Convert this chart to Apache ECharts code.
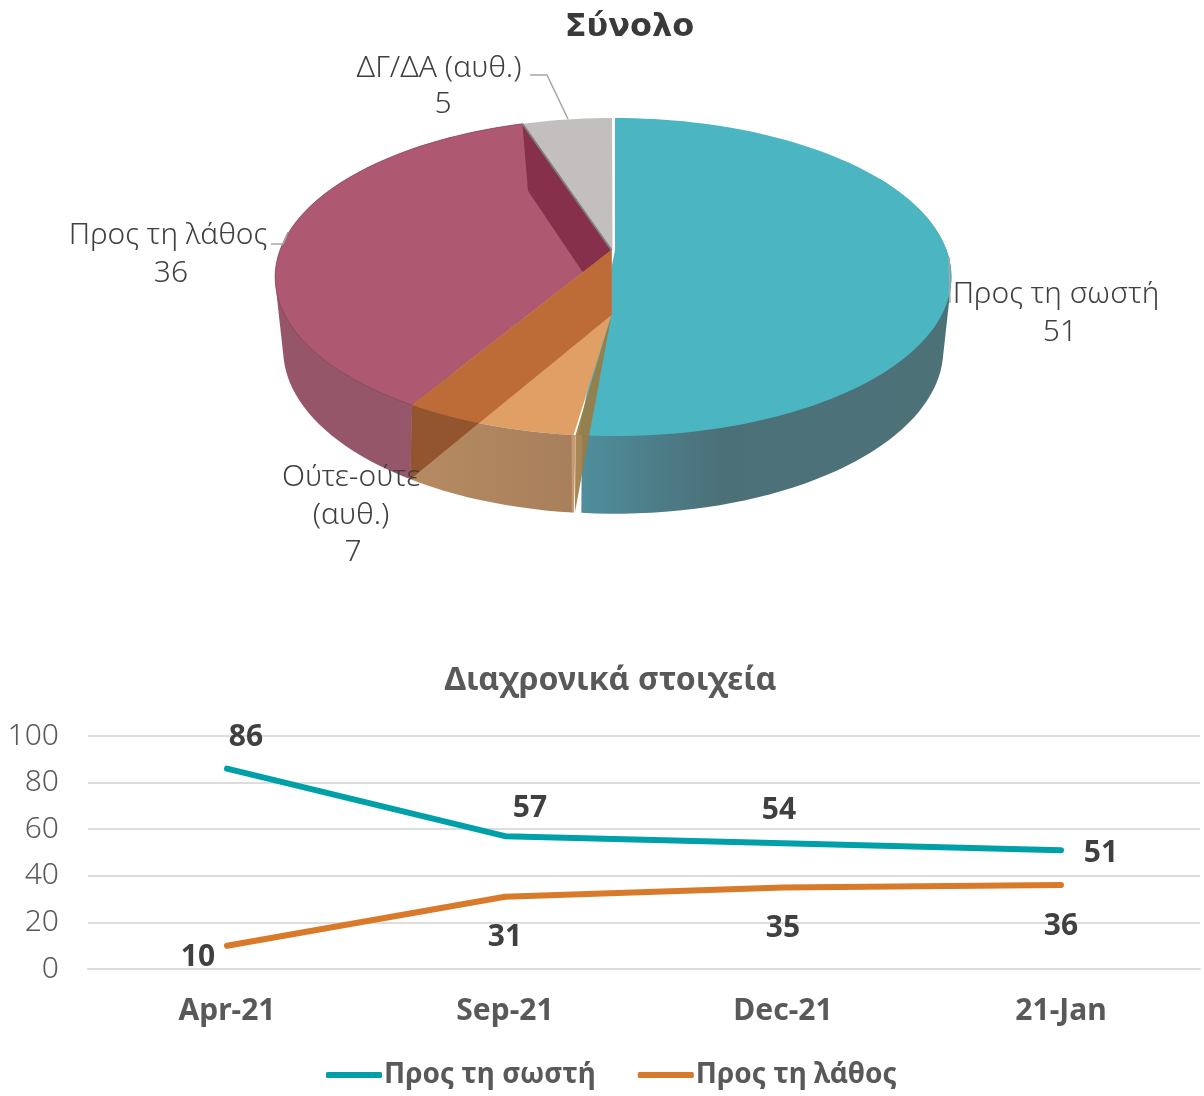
<!DOCTYPE html>
<html><head><meta charset="utf-8">
<style>html,body{margin:0;padding:0;background:#fff}#c{width:1204px;height:1096px}</style>
<script src="https://cdn.jsdelivr.net/npm/echarts@6/dist/echarts.min.js"></script>
</head><body><div id="c"></div>
<script>
// ---- data ----
const pieNames = ['Προς τη σωστή', 'Ούτε-ούτε\n(αυθ.)', 'Προς τη λάθος', 'ΔΓ/ΔΑ (αυθ.)'];
const pieValues = [51, 7, 36, 5];
const periods = ['Apr-21', 'Sep-21', 'Dec-21', '21-Jan'];
const rightValues = [86, 57, 54, 51];
const wrongValues = [10, 31, 35, 36];
const seriesNames = ['Προς τη σωστή', 'Προς τη λάθος'];
const yTicksMax = 100;

// ---- style / layout (not data) ----
const FONT = '"Noto Sans"';
const TEXT_DARK = '#404040', TEXT_MID = '#595959';
const rightOffsets = [[19, -31], [25, -28], [-4, -33], [40, 3]];
const wrongOffsets = [[-29, 12], [0, 41], [0, 41], [0, 41]];
const CX = 611.5;
const TOP = {cy: 250, A: 331.5, B: 154.4, k: 0.17};
const BOT = {cy: 315, A: 321, B: 157, k: 0.21};
const labelAnchors = [[1056, 294], [351, 477], [168, 235], [439, 68]];
const valueAnchors = [[1060, 332], [353, 552], [171, 273], [443, 104]];
const leaders = {0: [[949, 257], [950, 303]], 3: [[530, 75], [547, 75], [568, 119]], 2: [[271, 244], [283, 244], [288, 232]]};

function project(deg, L, dx) {
  const a = deg * Math.PI / 180, u = Math.sin(a), v = -Math.cos(a), w = 1 - L.k * v;
  return [CX + (dx || 0) + L.A * u / w, L.cy + L.B * v / w];
}
function arc(a0, a1, L, dx) {
  const pts = [], n = Math.max(8, Math.ceil(Math.abs(a1 - a0) / 2));
  for (let i = 0; i <= n; i++) pts.push(project(a0 + (a1 - a0) * i / n, L, dx));
  return pts;
}
// outline of the extruded wall: convex hull of its top and bottom arcs
function hull(points) {
  const p = points.slice().sort((a, b) => a[0] - b[0] || a[1] - b[1]);
  const cross = (o, a, b) => (a[0] - o[0]) * (b[1] - o[1]) - (a[1] - o[1]) * (b[0] - o[0]);
  const build = (list) => {
    const h = [];
    for (const q of list) {
      while (h.length >= 2 && cross(h[h.length - 2], h[h.length - 1], q) <= 0) h.pop();
      h.push(q);
    }
    h.pop();
    return h;
  };
  return build(p).concat(build(p.slice().reverse()));
}
const total = pieValues.reduce((s, v) => s + v, 0);
function sliceAngles(i) {
  let s = 0;
  for (let j = 0; j < i; j++) s += pieValues[j];
  return [s / total * 360, (s + pieValues[i]) / total * 360];
}
const G = (stops) => new echarts.graphic.LinearGradient(0, 0, 1, 0, stops.map((c) => ({offset: c[0], color: c[1]})));
const poly = (points, style, z2) => ({type: 'polygon', shape: {points}, style, z2, silent: true});
const apexT = (dx) => [CX + (dx || 0), TOP.cy];
const apexB = (dx) => [CX + (dx || 0), BOT.cy];

// part of the orange inner wall that falls over the orange side
function wallOverSide(a0, a1) {
  const P = project(a1, BOT), Q = apexB();
  const pts = [];
  for (let a = a1; a >= a0; a -= 0.25) {
    const p = project(a, TOP);
    const t = (p[0] - P[0]) / (Q[0] - P[0]);
    const lineY = P[1] + t * (Q[1] - P[1]);
    if (p[1] > lineY) break;
    pts.push(p);
  }
  return pts.concat([P]);
}

function renderSlice(params, api) {
  const i = params.dataIndex;
  const [a0, a1] = sliceAngles(i);
  const children = [];
  const side = (a, b, fill, z2, dx) => poly(arc(a, b, TOP, dx).concat(arc(a, b, BOT, dx).reverse()), {fill}, z2);
  const outer = (a, b, fill, z2, dx) => poly(hull(arc(a, b, TOP, dx).concat(arc(a, b, BOT, dx))), {fill}, z2);
  if (i === 0) { // teal
    const d = 3.5;
    children.push(outer(a0 + 60, a1 - 0.7, G([[0, '#4F8E9C'], [0.18, '#4C7F8A'], [0.38, '#4C7078'], [1, '#4C7278']]), 10, d));
    children.push(poly([apexT(d)].concat(arc(a0, a1 - 0.2, TOP, d)), {fill: '#4BB6C2'}, 11));
  } else if (i === 1) { // orange
    children.push(poly([apexT(), apexB()].concat(arc(a0, a1, TOP)), {fill: '#E0A065'}, 30));
    children.push(side(a0, a1, G([[0, '#B68B62'], [1, '#A87F5C']]), 31));
    // inner wall, seen through the translucent face
    children.push(poly([project(a1, TOP), apexT(), apexB(), project(a1, BOT)], {fill: '#BE6C37'}, 32));
    children.push(poly(wallOverSide(a0, a1), {fill: '#935530'}, 33));
    // right-hand wall
    children.push(poly([apexB(), project(a0, TOP, 2), project(a0, BOT, 2)], {fill: 'rgba(155,122,66,0.9)'}, 34));
    children.push(poly([project(a0, TOP, -2), project(a0, TOP, 2), project(a0, BOT, 1), project(a0, BOT, -1)], {fill: '#C89A6E'}, 35));
  } else if (i === 2) { // maroon
    children.push(outer(a0, a1, G([[0, '#965569'], [1, '#96586C']]), 20));
    children.push(poly([apexT()].concat(arc(a0, a1, TOP)), {fill: '#AE5871', stroke: 'rgba(120,70,90,0.55)', lineWidth: 1}, 21));
    children.push(poly([project(a1, TOP), apexT(), apexB(), project(a1, BOT)], {fill: '#87304B'}, 22));
  } else { // grey
    children.push(poly([apexT(1)].concat(arc(a0, a1 - 0.1, TOP, 1)), {fill: '#C3BFBF'}, 15));
    children.push({type: 'polyline', shape: {points: [project(a0, TOP), apexT()]}, style: {stroke: '#7F7F7F', lineWidth: 2, fill: null}, z2: 23, silent: true});
  }
  if (leaders[i]) children.push({type: 'polyline', shape: {points: leaders[i]}, style: {stroke: '#A6A6A6', lineWidth: 1.5, fill: null}, z2: 40, silent: true});
  const lines = pieNames[i].split('\n');
  const txt = (s, x, y) => ({type: 'text', z2: 50, silent: true, style: {x, y, text: s, align: 'center', verticalAlign: 'middle', fill: TEXT_DARK, fontFamily: FONT, fontWeight: 300, fontSize: 30}});
  lines.forEach((s, k) => children.push(txt(s, labelAnchors[i][0], labelAnchors[i][1] + k * 38)));
  children.push(txt(String(api.value(0)), valueAnchors[i][0], valueAnchors[i][1]));
  return {type: 'group', children};
}
const lineLabel = (offs) => (v, i) => ({value: v, label: {offset: offs[i]}});

const chart = echarts.init(document.getElementById('c'), null, {renderer: 'canvas'});
chart.setOption({
  animation: false,
  backgroundColor: '#fff',
  title: [
    {text: 'Σύνολο', left: 624.5, top: 23, textAlign: 'center', textVerticalAlign: 'middle', textStyle: {fontFamily: '"DejaVu Sans"', fontWeight: 900, fontSize: 32, color: '#3A3A3A'}},
    {text: 'Διαχρονικά στοιχεία', left: 605.5, top: 676, textAlign: 'center', textVerticalAlign: 'middle', textStyle: {fontFamily: FONT, fontWeight: 700, fontSize: 32, color: TEXT_MID}}
  ],
  grid: {left: 88, right: 4, top: 736, height: 233, containLabel: false},
  xAxis: {type: 'category', data: periods, boundaryGap: true, axisTick: {show: false},
    axisLine: {lineStyle: {color: '#DDDDDD', width: 2}},
    axisLabel: {margin: 27, color: TEXT_MID, fontFamily: FONT, fontWeight: 700, fontSize: 30}},
  yAxis: {type: 'value', min: 0, max: yTicksMax, interval: 20, axisLine: {show: false}, axisTick: {show: false},
    splitLine: {lineStyle: {color: '#DDDDDD', width: 2}},
    axisLabel: {margin: 29, color: TEXT_MID, fontFamily: FONT, fontWeight: 300, fontSize: 30}},
  legend: {left: 321, top: 1056, itemWidth: 56, itemHeight: 6, itemGap: 42, icon: 'roundRect', selectedMode: false,
    data: seriesNames, textStyle: {color: TEXT_MID, fontFamily: FONT, fontWeight: 700, fontSize: 28, padding: [0, 0, 0, -3]}},
  series: [
    {type: 'custom', coordinateSystem: 'none', silent: true, renderItem: renderSlice,
      data: pieValues.map((v, i) => ({name: pieNames[i], value: [v]}))},
    {name: seriesNames[0], type: 'line', data: rightValues.map(lineLabel(rightOffsets)), symbol: 'circle', symbolSize: 1, showSymbol: true, color: '#00A0A8',
      lineStyle: {width: 6, cap: 'round', color: '#00A0A8'}, silent: true,
      label: {show: true, position: 'inside', color: TEXT_DARK, fontFamily: FONT, fontWeight: 700, fontSize: 30}},
    {name: seriesNames[1], type: 'line', data: wrongValues.map(lineLabel(wrongOffsets)), symbol: 'circle', symbolSize: 1, showSymbol: true, color: '#D87A2A',
      lineStyle: {width: 6, cap: 'round', color: '#D87A2A'}, silent: true,
      label: {show: true, position: 'inside', color: TEXT_DARK, fontFamily: FONT, fontWeight: 700, fontSize: 30}}
  ]
});
</script></body></html>
